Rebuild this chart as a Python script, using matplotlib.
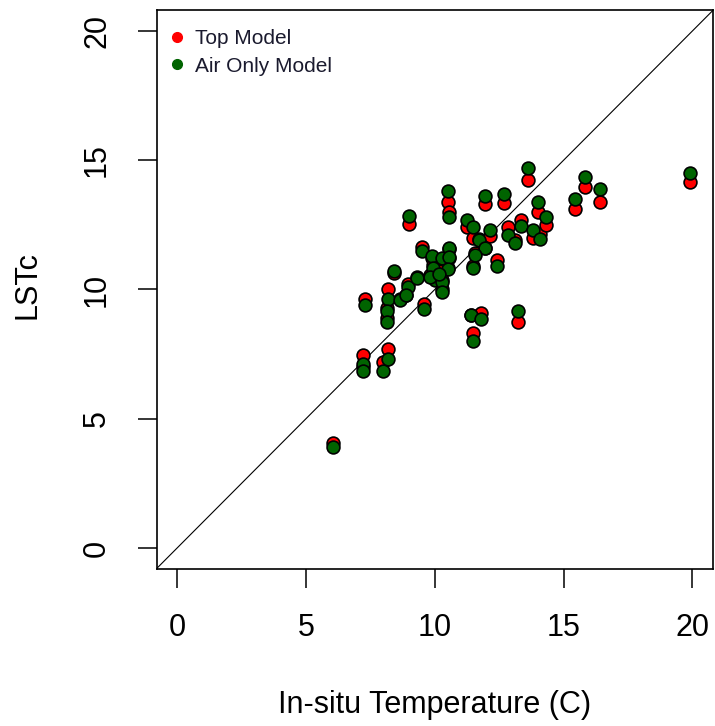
import matplotlib.pyplot as plt
from matplotlib.lines import Line2D

plt.rcParams['font.family'] = ['Liberation Sans', 'DejaVu Sans']

# in-situ temperature and the two model LST estimates at each site
insitu = [6.05, 7.2, 7.2, 7.3, 8.0, 8.2, 8.2, 8.15, 8.15, 8.4,
          8.65, 8.95, 9.0, 9.3, 9.5, 9.6, 9.9, 9.95, 10.0, 10.3,
          10.3, 10.3, 10.5, 10.55, 10.55, 10.55, 10.5, 11.25, 11.5, 11.7,
          11.95, 11.55, 11.5, 11.95, 12.15, 12.4, 11.5, 11.4, 11.8, 13.25,
          12.7, 13.6, 12.85, 13.1, 13.35, 13.8, 14.1, 14.0, 14.3, 15.45,
          15.85, 16.4, 19.9, 8.9, 9.8, 10.15]
top_model = [4.05, 7.45, 7.0, 9.65, 7.2, 7.7, 10.0, 9.3, 8.9, 10.65,
             9.65, 10.2, 12.55, 10.5, 11.65, 9.45, 11.2, 10.95, 10.45, 11.1,
             10.35, 10.0, 13.4, 13.0, 11.55, 11.2, 10.85, 12.4, 12.0, 11.95,
             11.6, 11.4, 10.9, 13.3, 12.05, 11.15, 8.3, 9.0, 9.1, 8.75,
             13.35, 14.25, 12.4, 11.9, 12.7, 12.0, 12.15, 13.0, 12.5, 13.1,
             13.95, 13.4, 14.15, 9.8, 10.55, 10.7]
air_only = [3.9, 7.1, 6.85, 9.4, 6.85, 7.3, 9.65, 9.15, 8.75, 10.7,
            9.6, 10.1, 12.85, 10.45, 11.5, 9.25, 11.3, 10.85, 10.35, 11.2,
            10.3, 9.9, 13.8, 12.8, 11.6, 11.25, 10.8, 12.7, 12.4, 11.9,
            11.6, 11.35, 10.85, 13.6, 12.3, 10.9, 8.0, 9.0, 8.85, 9.15,
            13.7, 14.7, 12.1, 11.8, 12.45, 12.3, 11.95, 13.4, 12.8, 13.5,
            14.35, 13.9, 14.5, 9.8, 10.5, 10.6]

ticks = [0, 5, 10, 15, 20]

fig = plt.figure(figsize=(7.15, 7.26), dpi=100)
ax = fig.add_axes([0.2189, 0.2167, 0.7783, 0.7691])

ax.axline((0, 0), slope=1, color='black', lw=0.8, zorder=1)
ax.scatter(insitu, top_model, s=85, c='#ff0000', edgecolors='black',
           linewidths=1.2, zorder=2)
ax.scatter(insitu, air_only, s=85, c='#006400', edgecolors='black',
           linewidths=1.2, zorder=3)

ax.set_xlim(-0.8, 20.8)
ax.set_ylim(-0.8, 20.8)
ax.set_xticks(ticks)
ax.set_yticks(ticks)
ax.tick_params(direction='out', length=14, width=1.1, labelsize=22,
               pad=18, top=False, right=False)
for lbl in ax.get_yticklabels():
    lbl.set_rotation(90)
    lbl.set_va('center')
for sp in ax.spines.values():
    sp.set_linewidth(1.2)

fig.text(0.5 * (156.5 + 713) / 715, 1 - 705 / 726, 'In-situ Temperature (C)',
         ha='center', va='center', fontsize=22)
fig.text(28 / 715, 1 - 285 / 726, 'LSTc', rotation=90,
         ha='center', va='center', fontsize=22)

handles = [Line2D([], [], ls='none', marker='o', ms=7, color='#ff0000'),
           Line2D([], [], ls='none', marker='o', ms=7, color='#006400')]
ax.legend(handles, ['Top Model', 'Air Only Model'], loc='upper left',
          bbox_to_anchor=(0.0, 0.989), frameon=False, fontsize=15,
          handlelength=0.8, handletextpad=0.45, labelspacing=0.42,
          borderaxespad=0.2, borderpad=0.4, labelcolor='#1a1a2e')

fig.savefig('out.png', dpi=100)
